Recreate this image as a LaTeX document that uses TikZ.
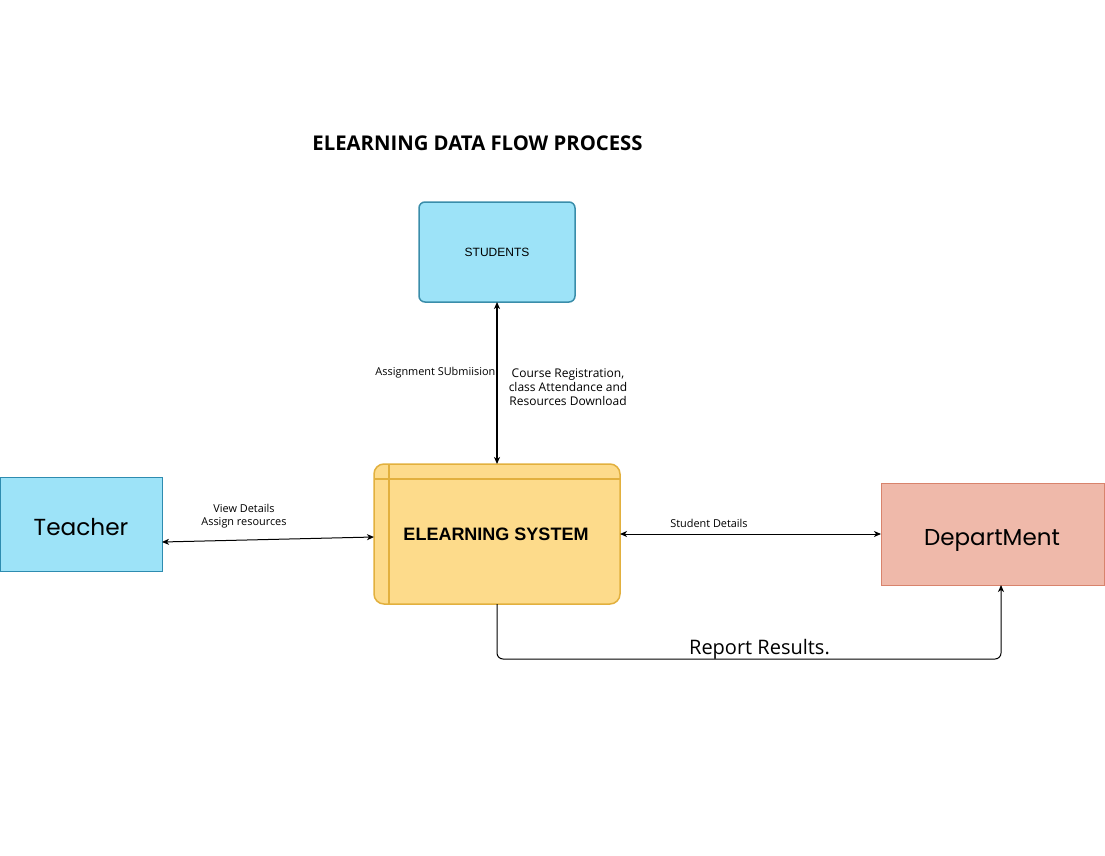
\documentclass[tikz,border=0pt]{standalone}
\usepackage{fontspec}
\setmainfont{Open Sans}
\newfontfamily\popfont{Poppins}
\newfontfamily\arialfont{Liberation Sans}
\usetikzlibrary{arrows.meta}
\definecolor{bluefill}{HTML}{9DE3F8}
\definecolor{bluestroke}{HTML}{3A8DAA}
\definecolor{tealstroke}{HTML}{2E8CB0}
\definecolor{yelfill}{HTML}{FDDB8B}
\definecolor{yelstroke}{HTML}{E2B03E}
\definecolor{redfill}{HTML}{EFB9AA}
\definecolor{redstroke}{HTML}{D8836C}
\begin{document}
\begin{tikzpicture}[x=1pt,y=-1pt,
  conn/.style={draw=black,line width=1pt,{Stealth[length=7pt,width=6pt,inset=2pt]}-{Stealth[length=7pt,width=6pt,inset=2pt]}},
  lbl/.style={font=\fontsize{10.9}{13.3}\selectfont,align=center,inner sep=0pt},
  ]
\useasboundingbox (0,0) rectangle (1105,856);
% title
\node[font=\fontsize{20.3}{24}\selectfont\bfseries,inner sep=0pt] (title) at (477.5,143) {ELEARNING DATA FLOW PROCESS};
% students
\draw[fill=bluefill,draw=bluestroke,line width=1.5pt,rounded corners=6pt] (419,202) rectangle (575,302);
\node[font=\arialfont\fontsize{12}{14}\selectfont,inner sep=0pt] (students) at (497,252) {STUDENTS};
\coordinate (stuB) at (497,302);
% elearning
\draw[fill=yelfill,draw=yelstroke,line width=1.5pt,rounded corners=10pt] (374,464) rectangle (620,604);
\draw[yelstroke,line width=1.5pt] (374,479) -- (620,479);
\draw[yelstroke,line width=1.5pt] (389,464) -- (389,604);
\node[font=\arialfont\fontsize{18}{22}\selectfont\bfseries,inner sep=0pt] (sys) at (496,534) {ELEARNING SYSTEM};
\coordinate (sysT) at (497,464);
\coordinate (sysL) at (374,537);
\coordinate (sysR) at (620,534);
\coordinate (sysB) at (497,604);
% teacher
\draw[fill=bluefill,draw=tealstroke,line width=1pt] (0.5,477) rectangle (162,571);
\node[font=\popfont\fontsize{23.2}{27}\selectfont,inner sep=0pt,anchor=base] (teacher) at (81,535) {Teacher};
\coordinate (teaR) at (162,542);
% department
\draw[fill=redfill,draw=redstroke,line width=1pt] (881,483) rectangle (1104.5,585);
\node[font=\popfont\fontsize{23}{27}\selectfont,inner sep=0pt,anchor=base] (dept) at (992,545) {DepartMent};
\coordinate (depL) at (881,534);
\coordinate (depB) at (1001,585);
% connectors
\draw[conn,line width=1.4pt] (stuB) -- (sysT);
\draw[conn] (teaR) -- (sysL);
\draw[conn] (sysR) -- (depL);
\draw[line width=1pt,rounded corners=6pt,-{Stealth[length=7pt,width=6pt,inset=2pt]}] (sysB) -- (497,659) -- (1001,659) -- (depB);
% labels
\node[lbl,anchor=east] (l1) at (495.5,373) {Assignment SUbmiision};
\node[font=\fontsize{12}{14.3}\selectfont,align=center,inner sep=0pt] (l2) at (568,387) {Course Registration,\\class Attendance and\\Resources Download};
\node[lbl] (l3) at (244,516.5) {View Details\\Assign resources};
\node[lbl] (l4) at (709,523) {Student Details};
\node[font=\fontsize{20}{24}\selectfont,inner sep=0pt] (l5) at (759.5,649) {Report Results.};
\end{tikzpicture}
\end{document}
